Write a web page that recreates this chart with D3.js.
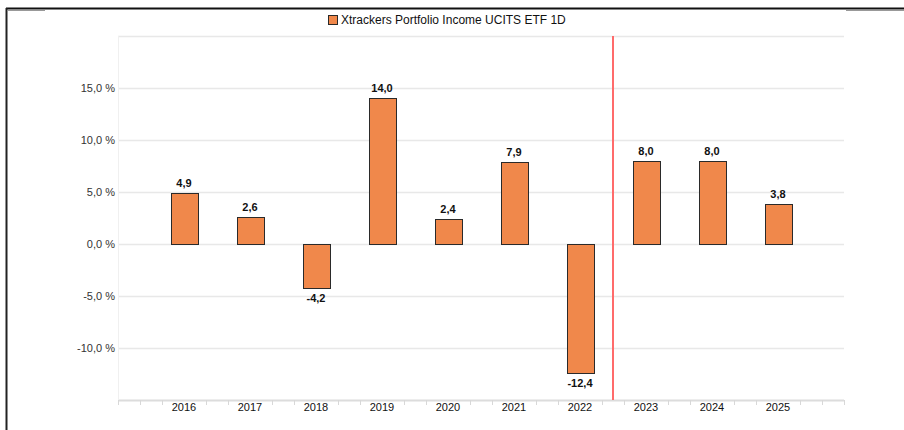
<!DOCTYPE html>
<html>
<head>
<meta charset="utf-8">
<script src="https://cdn.jsdelivr.net/npm/d3@7"></script>
<style>
  body { margin: 0; background: #fff; }
  svg { display: block; font-family: "Liberation Sans", Arial, sans-serif; }
</style>
</head>
<body>
<div id="vizcontainer"></div>
<script>
const years = [2016, 2017, 2018, 2019, 2020, 2021, 2022, 2023, 2024, 2025];
const returns = [4.9, 2.6, -4.2, 14.0, 2.4, 7.9, -12.4, 8.0, 8.0, 3.8];
const yTicks = [-10, -5, 0, 5, 10, 15];
const seriesName = 'Xtrackers Portfolio Income UCITS ETF 1D';
const splitYear = 2022.5;

const width = 904,
  height = 430;

const fmt = v => d3.format('.1f')(v).replace('.', ',').replace('−', '-');

let viz = d3.select('#vizcontainer')
  .append('svg')
  .attr('width', width)
  .attr('height', height);

// frame
viz.append('line').attr('x1', 6).attr('x2', width).attr('y1', 8.5).attr('y2', 8.5)
  .attr('stroke', '#111').attr('stroke-width', 2);
viz.append('line').attr('x1', 6.5).attr('x2', 6.5).attr('y1', 8).attr('y2', height)
  .attr('stroke', '#222').attr('stroke-width', 2);
viz.append('line').attr('x1', 8).attr('x2', 45).attr('y1', 10.5).attr('y2', 10.5)
  .attr('stroke', '#999').attr('stroke-width', 1);
viz.append('line').attr('x1', 846).attr('x2', width).attr('y1', 10.5).attr('y2', 10.5)
  .attr('stroke', '#999').attr('stroke-width', 1);

const x = d3.scaleLinear()
  .domain([2015, 2026])
  .range([118, 844]);

const y = d3.scaleLinear()
  .domain([-15, 20])
  .range([400, 36]);

const barW = 27;

// gridlines
viz.append('g')
  .selectAll('line')
  .data(d3.range(-15, 21, 5))
  .join('line')
  .attr('x1', x(2015))
  .attr('x2', x(2026))
  .attr('y1', d => Math.round(y(d)) + 0.5)
  .attr('y2', d => Math.round(y(d)) + 0.5)
  .attr('stroke', d => d === -15 ? '#dcdcdc' : '#e8e8e8')
  .attr('stroke-width', d => d === -15 ? 2 : 1.5);

viz.append('line')
  .attr('x1', x(2015) + 0.5).attr('x2', x(2015) + 0.5)
  .attr('y1', y(20)).attr('y2', y(-15))
  .attr('stroke', '#f0f0f0');

// y axis labels
viz.append('g')
  .selectAll('text')
  .data(yTicks)
  .join('text')
  .attr('x', 115)
  .attr('y', d => y(d) + 4)
  .attr('text-anchor', 'end')
  .attr('font-size', 11)
  .attr('fill', '#333')
  .text(d => fmt(d) + ' %');

// x axis minor ticks
const minor = d3.range(0, 34).map(i => 2015 + i / 3)
  .filter(v => Math.abs(v - Math.round(v)) > 0.01 || Math.round(v) === 2015 || Math.round(v) === 2026);
viz.append('g')
  .selectAll('line')
  .data(minor)
  .join('line')
  .attr('x1', d => Math.round(x(d)) + 0.5)
  .attr('x2', d => Math.round(x(d)) + 0.5)
  .attr('y1', 400)
  .attr('y2', 405)
  .attr('stroke', '#d8d8d8');

viz.append('g')
  .selectAll('text')
  .data(years)
  .join('text')
  .attr('x', d => x(d))
  .attr('y', 411)
  .attr('text-anchor', 'middle')
  .attr('font-size', 11)
  .attr('fill', '#111')
  .text(d => d);

// bars
viz.append('g')
  .selectAll('rect')
  .data(years)
  .join('rect')
  .attr('x', d => Math.round(x(d) - barW / 2) + 0.5)
  .attr('y', (d, i) => Math.round(y(Math.max(0, returns[i]))) + 0.5)
  .attr('width', barW)
  .attr('height', (d, i) => Math.abs(Math.round(y(returns[i])) - Math.round(y(0))))
  .attr('fill', '#f0884b')
  .attr('stroke', '#2a2a2a')
  .attr('stroke-width', 1);

// value labels
viz.append('g')
  .selectAll('text')
  .data(years)
  .join('text')
  .attr('x', d => x(d))
  .attr('y', (d, i) => returns[i] >= 0 ? y(returns[i]) - 6 : y(returns[i]) + 14)
  .attr('text-anchor', 'middle')
  .attr('font-size', 11)
  .attr('font-weight', 'bold')
  .attr('fill', '#111')
  .text((d, i) => fmt(returns[i]));

// split line
viz.append('line')
  .attr('x1', Math.round(x(splitYear)))
  .attr('x2', Math.round(x(splitYear)))
  .attr('y1', y(20))
  .attr('y2', y(-15))
  .attr('stroke', '#ff6b6b')
  .attr('stroke-width', 2);

// legend
const legend = viz.append('g');
legend.append('text')
  .attr('x', 341)
  .attr('y', 24)
  .attr('font-size', 12)
  .attr('fill', '#111')
  .text(seriesName);
legend.append('rect')
  .attr('x', 328.5)
  .attr('y', 15.5)
  .attr('width', 9)
  .attr('height', 9)
  .attr('fill', '#f0884b')
  .attr('stroke', '#2a2a2a');
</script>
</body>
</html>
